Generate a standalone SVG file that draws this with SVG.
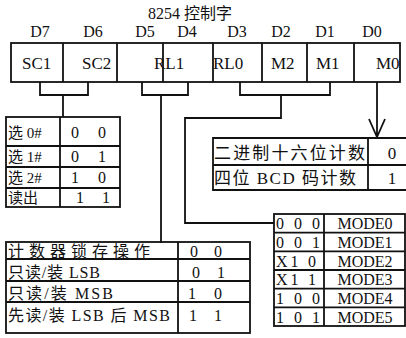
<svg xmlns="http://www.w3.org/2000/svg" width="406" height="338" viewBox="0 0 406 338">
<style>
.ln{fill:none;stroke:#111;stroke-width:1.8}
.t{font-family:'Liberation Serif','Times New Roman','Noto Sans CJK SC',serif;fill:#111}
.s17{font-size:17px}
.s16{font-size:16px}
.s15{font-size:15px}
</style>
<rect width="406" height="338" fill="#fff"/>
<g id="title">
<text class="t s16" x="190" y="19" text-anchor="middle">8254 控制字</text>
<text class="t s16" x="40" y="37" text-anchor="middle">D7</text>
<text class="t s16" x="93" y="37" text-anchor="middle">D6</text>
<text class="t s16" x="145" y="37" text-anchor="middle">D5</text>
<text class="t s16" x="187" y="37" text-anchor="middle">D4</text>
<text class="t s16" x="237" y="37" text-anchor="middle">D3</text>
<text class="t s16" x="281" y="37" text-anchor="middle">D2</text>
<text class="t s16" x="325" y="37" text-anchor="middle">D1</text>
<text class="t s16" x="372" y="37" text-anchor="middle">D0</text>
</g>
<g id="register">
<rect class="ln" x="11" y="43" width="389" height="39"/>
<path class="ln" d="M63,43V82M117,43V82M163,43V82M213,43V82M262,43V82M307,43V82M354,43V82"/>
<text class="t s17" x="22" y="69">SC1</text>
<text class="t s17" x="82" y="69">SC2</text>
<text class="t s17" x="154" y="69">RL1</text>
<text class="t s17" x="213" y="69">RL0</text>
<text class="t s17" x="271" y="69">M2</text>
<text class="t s17" x="316" y="69">M1</text>
<text class="t s17" x="376" y="69">M0</text>
</g>
<g id="connectors">
<path class="ln" d="M40,82V95H88V82M63,95V117"/>
<path class="ln" d="M142,82V95H188V82M161,95V243"/>
<path class="ln" d="M240,82V95H330V82M281,95V118H185V223H274"/>
<path class="ln" d="M377,82V137M369,119L377,137L385,119"/>
</g>
<g id="sc-table">
<rect class="ln" x="6" y="117" width="114" height="90"/>
<path class="ln" d="M60,117V207M6,146H120M6,167H120M6,188H120"/>
<text class="t s15" x="8" y="138">选 0#</text>
<text class="t s15" x="8" y="162">选 1#</text>
<text class="t s15" x="8" y="183">选 2#</text>
<text class="t s15" x="8" y="203">读出</text>
<text class="t s16" x="75" y="138" text-anchor="middle">0</text><text class="t s16" x="102" y="138" text-anchor="middle">0</text>
<text class="t s16" x="75" y="162" text-anchor="middle">0</text><text class="t s16" x="102" y="162" text-anchor="middle">1</text>
<text class="t s16" x="75" y="183" text-anchor="middle">1</text><text class="t s16" x="102" y="183" text-anchor="middle">0</text>
<text class="t s16" x="80" y="203" text-anchor="middle">1</text><text class="t s16" x="106" y="203" text-anchor="middle">1</text>
</g>
<g id="bcd-table">
<path class="ln" d="M406,138H213V190H406M368,138V190M213,165H406"/>
<text class="t s17" x="214" y="159" textLength="151" lengthAdjust="spacing">二进制十六位计数</text>
<text class="t s17" x="214" y="184" textLength="142" lengthAdjust="spacing">四位 BCD 码计数</text>
<text class="t s17" x="392" y="159" text-anchor="middle">0</text>
<text class="t s17" x="392" y="184" text-anchor="middle">1</text>
</g>
<g id="rl-table">
<rect class="ln" x="6" y="242" width="244" height="91"/>
<path class="ln" d="M178,242V333M6,259H250M6,281H250M6,302H250"/>
<text class="t s16" x="8" y="257" textLength="142" lengthAdjust="spacing">计数器锁存操作</text>
<text class="t s16" x="8" y="278" textLength="92" lengthAdjust="spacing">只读/装 LSB</text>
<text class="t s16" x="8" y="299" textLength="105" lengthAdjust="spacing">只读/装 MSB</text>
<text class="t s16" x="8" y="321" textLength="162" lengthAdjust="spacing">先读/装 LSB 后 MSB</text>
<text class="t s16" x="194" y="257" text-anchor="middle">0</text><text class="t s16" x="218" y="257" text-anchor="middle">0</text>
<text class="t s16" x="196" y="278" text-anchor="middle">0</text><text class="t s16" x="221" y="278" text-anchor="middle">1</text>
<text class="t s16" x="192" y="299" text-anchor="middle">1</text><text class="t s16" x="218" y="299" text-anchor="middle">0</text>
<text class="t s16" x="193" y="321" text-anchor="middle">1</text><text class="t s16" x="218" y="321" text-anchor="middle">1</text>
</g>
<g id="mode-table">
<rect class="ln" x="274" y="214" width="131" height="112"/>
<path class="ln" d="M324,214V326M274,232.7H405M274,251.3H405M274,270H405M274,288.7H405M274,307.3H405"/>
<text class="t s16" x="276" y="229" textLength="44" lengthAdjust="spacing">0 0 0</text>
<text class="t s16" x="276" y="248" textLength="44" lengthAdjust="spacing">0 0 1</text>
<text class="t s16" x="276" y="267" textLength="40" lengthAdjust="spacing">X1 0</text>
<text class="t s16" x="276" y="285" textLength="40" lengthAdjust="spacing">X1 1</text>
<text class="t s16" x="276" y="304" textLength="44" lengthAdjust="spacing">1 0 0</text>
<text class="t s16" x="276" y="323" textLength="44" lengthAdjust="spacing">1 0 1</text>
<text class="t s16" x="365" y="229" text-anchor="middle">MODE0</text>
<text class="t s16" x="365" y="248" text-anchor="middle">MODE1</text>
<text class="t s16" x="365" y="267" text-anchor="middle">MODE2</text>
<text class="t s16" x="365" y="285" text-anchor="middle">MODE3</text>
<text class="t s16" x="365" y="304" text-anchor="middle">MODE4</text>
<text class="t s16" x="365" y="323" text-anchor="middle">MODE5</text>
</g>
</svg>
